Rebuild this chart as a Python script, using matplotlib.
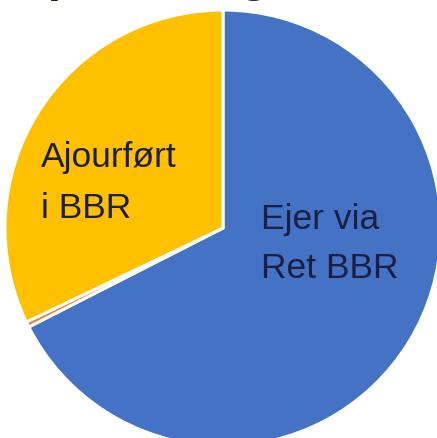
import matplotlib.pyplot as plt

labels = ['Ejer via Ret BBR', 'Andet', 'Ajourført i BBR']
values = [67.5, 0.4, 32.1]
colors = ['#4472C4', '#ED7D31', '#FFC000']

plt.rcParams['font.family'] = ['Liberation Sans', 'DejaVu Sans']
txt_color = '#1c1f45'

fig = plt.figure(figsize=(4.37, 4.38), dpi=100)
# pie centre ~ (223, 228) px, radius ~ 218 px
ax = fig.add_axes([5 / 437, (210 - 218) / 438, 436 / 437, 436 / 438])
ax.pie(values, colors=colors, startangle=90, counterclock=False,
       wedgeprops=dict(edgecolor='white', linewidth=2.2))
ax.set_xlim(-1, 1)
ax.set_ylim(-1, 1)
ax.set_aspect('auto')
ax.axis('off')

# title, mostly cut off at the top of the picture
fig.text(10 / 437, 1 + 9.5 / 438, 'Opdatering', fontsize=35, fontweight='bold',
         color=txt_color, ha='left', va='baseline')

fig.text(41 / 437, 1 - 167 / 438, 'Ajourført', fontsize=25.5, color=txt_color,
         ha='left', va='baseline')
fig.text(41 / 437, 1 - 218 / 438, 'i BBR', fontsize=25.5, color=txt_color,
         ha='left', va='baseline')
fig.text(261 / 437, 1 - 229 / 438, 'Ejer via', fontsize=25.5, color=txt_color,
         ha='left', va='baseline')
fig.text(261 / 437, 1 - 278 / 438, 'Ret BBR', fontsize=25.5, color=txt_color,
         ha='left', va='baseline')

fig.savefig('out.png', dpi=100)
